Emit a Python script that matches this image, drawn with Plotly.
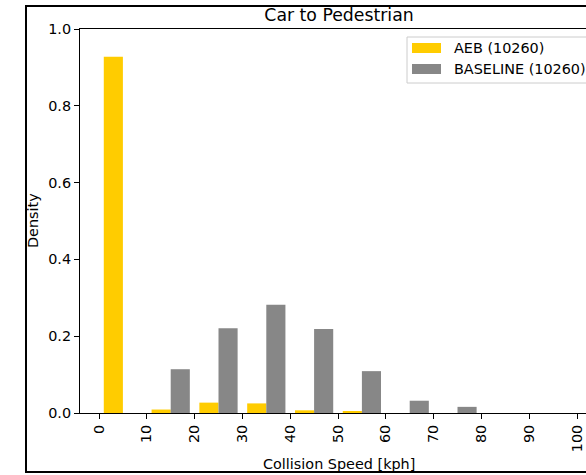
import plotly.graph_objects as go

# Data
bin_left = [0, 10, 20, 30, 40, 50, 60, 70, 80, 90]
aeb = [0.928, 0.009, 0.027, 0.025, 0.007, 0.004, 0.0, 0.0, 0.0, 0.0]
baseline = [0.0, 0.114, 0.221, 0.282, 0.219, 0.109, 0.032, 0.016, 0.0, 0.0]
x_ticks = [0, 10, 20, 30, 40, 50, 60, 70, 80, 90, 100]
y_ticks = [0.0, 0.2, 0.4, 0.6, 0.8, 1.0]
series_names = ["AEB (10260)", "BASELINE (10260)"]
colors = ["#FFCC00", "#878787"]

W, H = 586, 475
L, R, T, B = 80, 0, 29, 62
pw, ph = W - L - R, H - T - B

def px(x):
    return (x - L) / pw

def py(y):
    return (H - B - y) / ph

FONT = "DejaVu Sans"
FS = 14.4
TFS = 17.3

fig = go.Figure()
fig.add_trace(go.Bar(x=bin_left, y=aeb, width=4, offset=1, marker_color=colors[0],
                     marker_line_width=0, name=series_names[0], showlegend=False))
fig.add_trace(go.Bar(x=bin_left, y=baseline, width=4, offset=5, marker_color=colors[1],
                     marker_line_width=0, name=series_names[1], showlegend=False))

# x scale: tick 0 at px 99, 10 units = 47.8 px
x0 = -19 / 4.78
x1 = (W - L - 19) / 4.78

shapes = []
# outer figure frame
shapes.append(dict(type="rect", xref="paper", yref="paper",
                   x0=px(26), x1=px(W + 20), y0=py(472), y1=py(6),
                   line=dict(color="black", width=2), fillcolor="rgba(0,0,0,0)"))
# legend box
shapes.append(dict(type="rect", xref="paper", yref="paper",
                   x0=px(407), x1=px(W + 20), y0=py(83), y1=py(37),
                   line=dict(color="#cccccc", width=1), fillcolor="white"))
# legend patches
shapes.append(dict(type="rect", xref="paper", yref="paper",
                   x0=px(412), x1=px(441), y0=py(53), y1=py(43),
                   line=dict(width=0), fillcolor=colors[0]))
shapes.append(dict(type="rect", xref="paper", yref="paper",
                   x0=px(412), x1=px(441), y0=py(74), y1=py(64),
                   line=dict(width=0), fillcolor=colors[1]))

annotations = [
    dict(text=series_names[0], xref="paper", yref="paper", x=px(452), y=py(48),
         xanchor="left", yanchor="middle", showarrow=False,
         font=dict(family=FONT, size=FS, color="black")),
    dict(text=series_names[1], xref="paper", yref="paper", x=px(452), y=py(69),
         xanchor="left", yanchor="middle", showarrow=False,
         font=dict(family=FONT, size=FS, color="black")),
    dict(text="Density", xref="paper", yref="paper", x=px(33), y=py(221),
         xanchor="center", yanchor="middle", textangle=-90, showarrow=False,
         font=dict(family=FONT, size=FS, color="black")),
    dict(text="Collision Speed [kph]", xref="paper", yref="paper", x=px(339), y=py(464),
         xanchor="center", yanchor="middle", showarrow=False,
         font=dict(family=FONT, size=FS, color="black")),
]

fig.update_layout(
    width=W, height=H,
    margin=dict(l=L, r=R, t=T, b=B, pad=0),
    paper_bgcolor="white", plot_bgcolor="white",
    barmode="overlay",
    title=dict(text="Car to Pedestrian", x=339 / W, xref="container", xanchor="center",
               y=1 - 15 / H, yref="container", yanchor="middle",
               font=dict(family=FONT, size=TFS, color="black")),
    font=dict(family=FONT, size=FS, color="black"),
    shapes=shapes,
    annotations=annotations,
    showlegend=False,
)
fig.update_xaxes(range=[x0, x1], tickmode="array", tickvals=x_ticks,
                 ticktext=[str(v) for v in x_ticks], tickangle=-90,
                 ticks="outside", ticklen=5, tickcolor="black", tickwidth=1,
                 showline=True, linecolor="black", linewidth=1, mirror=True,
                 showgrid=False, zeroline=False,
                 tickfont=dict(family=FONT, size=FS, color="black"))
fig.update_yaxes(range=[0, 1.0], tickmode="array", tickvals=y_ticks,
                 ticktext=[f"{v:.1f}" for v in y_ticks],
                 ticks="outside", ticklen=5, tickcolor="black", tickwidth=1,
                 showline=True, linecolor="black", linewidth=1,
                 showgrid=False, zeroline=False,
                 tickfont=dict(family=FONT, size=FS, color="black"))

fig.write_html("out.html", config={"displayModeBar": False},
               post_script="document.body.style.margin='0px';document.body.style.overflow='hidden';")
